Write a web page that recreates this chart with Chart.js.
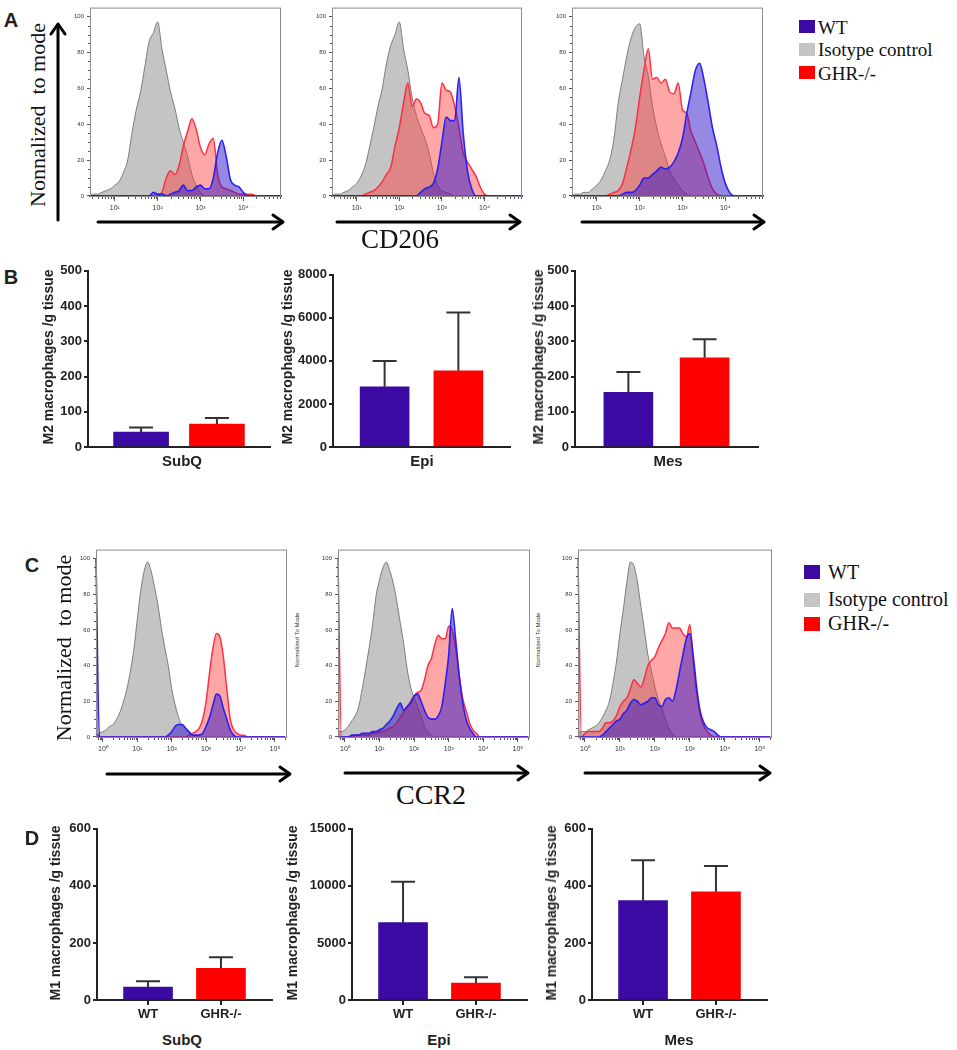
<!DOCTYPE html>
<html>
<head>
<meta charset="utf-8">
<script src="https://cdn.jsdelivr.net/npm/chart.js@4.4.1/dist/chart.umd.min.js"></script>
<style>
body { margin: 0; background: #fff; }
#fig { position: relative; width: 957px; height: 1050px; overflow: hidden; background: #fff; }
#fig canvas { position: absolute; }
.t { position: absolute; white-space: pre; line-height: 1; transform: translate(-50%, -50%); }
.l { transform: translate(0, -50%); }
.r { transform: translate(-50%, -50%) rotate(-90deg); }
.serif { font-family: 'Liberation Serif', 'Times New Roman', serif; color: #111; }
.sans { font-family: 'Liberation Sans', Arial, sans-serif; font-weight: bold; color: #222; }
.tiny { font-family: 'Liberation Sans', Arial, sans-serif; color: #333; }
.sw { position: absolute; }
</style>
</head>
<body>
<div id="fig">
<svg width="957" height="1050" style="position:absolute;left:0;top:0" fill="none" stroke="#000" stroke-width="3" stroke-linecap="round" stroke-linejoin="round">
  <line x1="58" y1="220" x2="58" y2="25"/><polyline points="51,34 58,24 65,34"/>
  <line x1="98" y1="222" x2="282" y2="222"/><polyline points="273,215 283,222 273,229"/>
  <line x1="337" y1="222" x2="519" y2="222"/><polyline points="510,215 520,222 510,229"/>
  <line x1="582" y1="222" x2="763" y2="222"/><polyline points="754,215 764,222 754,229"/>
  <line x1="107" y1="774" x2="289" y2="774"/><polyline points="280,767 290,774 280,781"/>
  <line x1="345" y1="773" x2="527" y2="773"/><polyline points="518,766 528,773 518,780"/>
  <line x1="585" y1="773" x2="769" y2="773"/><polyline points="760,766 770,773 760,780"/>
</svg>
</div>
<script>
// ---- data ----
const cats = ['WT', 'GHR-/-'];
const tissues = ['SubQ', 'Epi', 'Mes'];
const legendItems = ['WT', 'Isotype control', 'GHR-/-'];
const histTicksY = [0, 20, 40, 60, 80, 100];
const decades = [0, 1, 2, 3, 4, 5];

// log10 fluorescence grid, CD206 panels
const gridA = [0.4,0.5,0.6,0.7,0.8,0.9,1.0,1.1,1.2,1.3,1.4,1.5,1.6,1.7,1.8,1.9,2.0,2.1,2.2,2.3,2.4,2.5,2.6,2.7,2.8,2.9,3.0,3.1,3.2,3.3,3.4,3.5,3.6,3.7,3.8,3.9,4.0,4.1,4.2,4.3,4.4,4.5,4.6,4.7,4.8,4.9];
// SubQ CD206
const a1Gray = [0,1,1,2,3,4,6,8,13,20,35,48,58,72,86,91,97,82,70,58,49,38,30,22,12,6,2,0,0,0,0,0,0,0,0,0,0,0,0,0,0,0,0,0,0,0];
const a1Red  = [0,0,0,0,0,0,0,0,0,0,0,0,0,0,0,0,0,2,10,14,12,17,28,36,43,37,27,23,29,32,12,5,4,3,2,1,1,1,1,0,0,0,0,0,0,0];
const a1Blue = [0,0,0,0,0,0,0,0,0,0,0,0,0,0,0,2,1,1,0,1,2,3,6,3,3,5,6,4,4,10,24,31,22,9,6,5,2,0,0,0,0,0,0,0,0,0];
// Epi CD206
const a2Gray = [0,1,1,2,3,5,7,11,17,27,38,50,60,74,84,90,97,82,70,55,45,38,32,24,13,6,3,2,1,0,0,0,0,0,0,0,0,0,0,0,0,0,0,0,0,0];
const a2Red  = [0,0,0,0,0,0,0,0,1,2,3,5,8,12,16,28,38,52,63,50,54,52,46,45,38,40,63,59,58,50,38,24,19,15,11,5,1,0,0,0,0,0,0,0,0,0];
const a2Blue = [0,0,0,0,0,0,0,0,0,0,0,0,0,0,0,0,0,0,0,0,0,2,4,5,7,15,30,44,42,42,66,35,14,4,0,0,0,0,0,0,0,0,0,0,0,0];
// Mes CD206
const a3Gray = [0,1,1,2,2,4,6,9,14,20,32,52,65,78,88,94,96,78,67,50,38,29,22,14,10,6,3,1,0,0,0,0,0,0,0,0,0,0,0,0,0,0,0,0,0,0];
const a3Red  = [0,0,0,0,0,0,0,0,0,1,2,3,7,16,26,38,55,70,82,65,66,63,65,58,57,63,48,46,36,30,24,18,10,4,1,0,0,0,0,0,0,0,0,0,0,0];
const a3Blue = [0,0,0,0,0,0,0,0,0,0,0,0,1,2,2,3,6,10,10,12,14,16,15,16,19,24,32,46,58,70,74,65,52,38,28,16,7,2,0,0,0,0,0,0,0,0];

// log10 fluorescence grid, CCR2 panels
const gridC = [-0.2,-0.1,0.0,0.1,0.2,0.3,0.4,0.5,0.6,0.7,0.8,0.9,1.0,1.1,1.2,1.3,1.4,1.5,1.6,1.7,1.8,1.9,2.0,2.1,2.2,2.3,2.4,2.5,2.6,2.7,2.8,2.9,3.0,3.1,3.2,3.3,3.4,3.5,3.6,3.7,3.8,3.9,4.0,4.1,4.2,4.3,4.4,4.5,4.6,4.7,4.8,4.9,5.0,5.1,5.2,5.3];
// SubQ CCR2
const c1Gray = [0,2,3,4,6,7,10,14,20,27,37,49,66,82,93,98,93,84,74,61,50,40,27,18,11,6,4,2,1,0,0,0,0,0,0,0,0,0,0,0,0,0,0,0,0,0,0,0,0,0,0,0,0,0,0,0];
const c1Red  = [2,0,0,0,0,0,0,0,0,0,0,0,0,0,0,0,0,0,0,0,0,0,0,0,0,0,0,1,2,3,5,10,20,36,50,58,56,45,27,10,4,2,1,1,0,0,0,0,0,0,0,0,0,0,0,0];
const c1Blue = [100,0,0,0,0,0,0,0,0,0,0,0,0,0,0,0,0,0,0,0,0,1,3,6,7,7,5,3,1,1,1,2,6,11,18,24,23,16,10,4,1,0,0,0,0,0,0,0,0,0,0,0,0,0,0,0];
// Epi CCR2
const c2Gray = [3,3,4,6,9,12,17,27,38,50,63,79,88,95,98,93,86,76,64,52,38,28,22,17,12,6,3,1,0,0,0,0,0,0,0,0,0,0,0,0,0,0,0,0,0,0,0,0,0,0,0,0,0,0,0,0];
const c2Red  = [100,0,0,0,0,1,1,1,1,1,2,2,3,3,4,5,6,8,11,14,17,20,23,25,26,32,40,44,52,57,55,55,62,60,50,35,22,15,8,4,2,0,0,0,0,0,0,0,0,0,0,0,0,0,0,0];
const c2Blue = [0,0,0,0,1,1,1,2,2,2,3,3,4,5,7,9,12,16,19,15,17,19,23,24,20,15,11,10,10,12,17,30,46,72,55,35,20,10,5,2,0,0,0,0,0,0,0,0,0,0,0,0,0,0,0,0];
// Mes CCR2
const c3Gray = [2,3,3,4,5,6,8,11,15,20,30,42,58,72,87,98,96,87,73,60,46,37,28,21,16,10,5,2,0,0,0,0,0,0,0,0,0,0,0,0,0,0,0,0,0,0,0,0,0,0,0,0,0,0,0,0];
const c3Red  = [100,0,2,3,3,3,3,5,8,8,9,12,17,20,22,27,32,30,28,33,40,43,45,50,54,58,64,61,61,61,58,56,63,42,24,12,6,3,1,0,0,0,0,0,0,0,0,0,0,0,0,0,0,0,0,0];
const c3Blue = [0,0,0,0,0,0,0,1,3,5,7,9,10,13,15,19,21,20,18,19,20,22,22,18,17,21,22,20,26,36,46,55,58,45,27,14,8,5,4,3,1,0,0,0,0,0,0,0,0,0,0,0,0,0,0,0];

// macrophages per g tissue, mean and SEM (WT, GHR-/-)
const m2Subq = [42, 65],    m2SubqErr = [13, 17];
const m2Epi  = [2800, 3540], m2EpiErr = [1200, 2710];
const m2Mes  = [155, 253],  m2MesErr  = [58, 53];
const m1Subq = [45, 111],   m1SubqErr = [21, 39];
const m1Epi  = [6780, 1480], m1EpiErr = [3570, 520];
const m1Mes  = [348, 379],  m1MesErr  = [142, 91];

// ---- drawing ----
const fig = document.getElementById('fig');
const WT_COL = '#3a0aa3', KO_COL = '#ff0000', ISO_COL = '#c4c4c4';
const SANS = "'Liberation Sans', Arial, sans-serif";
const sup = { 0: '\u2070', 1: '\u00b9', 2: '\u00b2', 3: '\u00b3', 4: '\u2074', 5: '\u2075' };

function addCanvas(x, y, w, h) {
  const c = document.createElement('canvas');
  c.width = w; c.height = h;
  c.style.left = x + 'px'; c.style.top = y + 'px';
  fig.appendChild(c);
  return c;
}
function txt(s, x, y, cls, size) {
  const d = document.createElement('div');
  d.className = 't ' + cls;
  d.textContent = s;
  d.style.left = x + 'px'; d.style.top = y + 'px';
  d.style.fontSize = size + 'px';
  fig.appendChild(d);
}
function swatch(x, y, w, h, col) {
  const d = document.createElement('div');
  d.className = 'sw';
  Object.assign(d.style, { left: x + 'px', top: y + 'px', width: w + 'px', height: h + 'px', background: col });
  fig.appendChild(d);
}

// grey frame + log minor ticks for the flow histograms
const framePlugin = {
  id: 'frame',
  afterDatasetsDraw(chart) {
    const a = chart.chartArea, ctx = chart.ctx, xs = chart.scales.x, ys = chart.scales.y;
    ctx.save();
    ctx.strokeStyle = '#8c8c8c'; ctx.lineWidth = 1;
    ctx.strokeRect(a.left + 0.5, a.top + 0.5, a.right - a.left - 1, a.bottom - a.top - 1);
    ctx.strokeStyle = '#555';
    ctx.beginPath();
    for (let d = Math.floor(xs.min); d <= Math.ceil(xs.max); d++) {
      for (let k = 2; k < 10; k++) {
        const v = d + Math.log10(k);
        if (v < xs.min || v > xs.max) continue;
        const px = Math.round(xs.getPixelForValue(v)) + 0.5;
        ctx.moveTo(px, a.bottom); ctx.lineTo(px, a.bottom + 2);
      }
    }
    for (let v = 5; v < 100; v += 5) {
      if (v % 20 === 0) continue;
      const py = Math.round(ys.getPixelForValue(v)) + 0.5;
      ctx.moveTo(a.left, py); ctx.lineTo(a.left - 2, py);
    }
    ctx.stroke();
    ctx.restore();
  }
};

function hist(fx, fy, fw, fh, grid, xr, blue, red, gray) {
  const c = addCanvas(fx - 30, fy - 4, fw + 34, fh + 28);
  const pts = v => grid.map((g, i) => ({ x: g, y: v[i] }));
  new Chart(c, {
    type: 'line',
    data: {
      datasets: [
        { data: pts(blue), order: 1, clip: 2, borderColor: 'rgba(35,25,245,0.95)', backgroundColor: 'rgba(45,20,200,0.5)', borderWidth: 1.6, fill: 'origin' },
        { data: pts(red), order: 2, clip: 2, borderColor: 'rgba(255,40,60,0.95)', backgroundColor: 'rgba(255,60,60,0.45)', borderWidth: 1.5, fill: 'origin' },
        { data: pts(gray), order: 3, borderColor: '#7d7d7d', backgroundColor: ISO_COL, borderWidth: 1, fill: 'origin' }
      ]
    },
    options: {
      responsive: false, animation: false,
      elements: { point: { radius: 0 }, line: { cubicInterpolationMode: 'monotone' } },
      layout: { padding: { top: 4, right: 4, left: 0, bottom: 0 } },
      plugins: { legend: { display: false }, tooltip: { enabled: false } },
      scales: {
        x: {
          type: 'linear', min: xr[0], max: xr[1],
          afterFit: s => { s.height = 24; },
          afterBuildTicks: s => { s.ticks = decades.filter(d => d >= s.min && d <= s.max).map(d => ({ value: d })); },
          ticks: { callback: v => '10' + sup[v], font: { size: 7, family: SANS }, color: '#333', maxRotation: 0, autoSkip: false, padding: 3 },
          grid: { drawOnChartArea: false, tickLength: 4, color: '#555' },
          border: { display: false }
        },
        y: {
          min: -0.6, max: 105,
          afterFit: s => { s.width = 30; },
          afterBuildTicks: s => { s.ticks = histTicksY.map(v => ({ value: v })); },
          ticks: { font: { size: 6, family: SANS }, color: '#333', padding: 3 },
          grid: { drawOnChartArea: false, tickLength: 3, color: '#555' },
          border: { display: false }
        }
      }
    },
    plugins: [framePlugin]
  });
}

// upward SEM whiskers
const errPlugin = {
  id: 'errbars',
  afterDatasetsDraw(chart, args, opts) {
    const meta = chart.getDatasetMeta(0), ys = chart.scales.y, ctx = chart.ctx;
    ctx.save();
    ctx.strokeStyle = '#333'; ctx.lineWidth = 2;
    meta.data.forEach((bar, i) => {
      const top = ys.getPixelForValue(chart.data.datasets[0].data[i].y + opts.errs[i]);
      ctx.beginPath();
      ctx.moveTo(bar.x, bar.y); ctx.lineTo(bar.x, top);
      ctx.moveTo(bar.x - 12, top); ctx.lineTo(bar.x + 12, top);
      ctx.stroke();
    });
    ctx.restore();
  }
};

function bars(ax, ay, aw, ah, vals, errs, ymax, step, thick, showCats) {
  const c = addCanvas(ax - 60, ay - 8, aw + 66, ah + 38);
  new Chart(c, {
    type: 'bar',
    data: { datasets: [{ data: vals.map((v, i) => ({ x: i, y: v })), backgroundColor: [WT_COL, KO_COL], barThickness: thick }] },
    options: {
      responsive: false, animation: false,
      layout: { padding: { top: 8, right: 6, left: 0, bottom: 0 } },
      plugins: { legend: { display: false }, tooltip: { enabled: false }, errbars: { errs } },
      scales: {
        x: {
          type: 'linear', min: -0.7, max: 1.7, offset: false,
          afterFit: s => { s.height = 30; },
          afterBuildTicks: s => { s.ticks = [{ value: 0 }, { value: 1 }]; },
          ticks: { display: showCats, callback: v => cats[v], font: { size: 13, weight: 'bold', family: SANS }, color: '#222', padding: 2, maxRotation: 0 },
          grid: { offset: false, drawOnChartArea: false, drawTicks: showCats, tickLength: 5, color: '#222', lineWidth: 2 },
          border: { color: '#222', width: 2 }
        },
        y: {
          min: 0, max: ymax,
          afterFit: s => { s.width = 60; },
          ticks: { stepSize: step, callback: v => String(v), font: { size: 13, weight: 'bold', family: SANS }, color: '#222', padding: 2 },
          grid: { drawOnChartArea: false, tickLength: 4, color: '#222', lineWidth: 2 },
          border: { color: '#222', width: 2 }
        }
      }
    },
    plugins: [errPlugin]
  });
}

// A: CD206 histograms
hist(90, 5, 191, 192, gridA, [0.42, 4.88], a1Blue, a1Red, a1Gray);
hist(332, 5, 190, 192, gridA, [0.42, 4.88], a2Blue, a2Red, a2Gray);
hist(572, 5, 191, 192, gridA, [0.42, 4.88], a3Blue, a3Red, a3Gray);
// B: M2 counts
bars(88, 269, 182, 178, m2Subq, m2SubqErr, 500, 100, 55, false);
bars(333, 273, 177, 174, m2Epi, m2EpiErr, 8000, 2000, 49, false);
bars(575, 269, 183, 178, m2Mes, m2MesErr, 500, 100, 49, false);
// C: CCR2 histograms
hist(96, 547, 191, 191, gridC, [-0.2, 5.35], c1Blue, c1Red, c1Gray);
hist(338, 547, 192, 191, gridC, [-0.2, 5.35], c2Blue, c2Red, c2Gray);
hist(578, 547, 194, 191, gridC, [-0.2, 5.35], c3Blue, c3Red, c3Gray);
// D: M1 counts
bars(97, 827, 175, 173, m1Subq, m1SubqErr, 600, 200, 49, true);
bars(352, 827, 175, 173, m1Epi, m1EpiErr, 15000, 5000, 49, true);
bars(592, 827, 175, 173, m1Mes, m1MesErr, 600, 200, 49, true);

// panel letters
txt('A', 11, 20, 'sans', 20);
txt('B', 11, 277, 'sans', 20);
txt('C', 32, 565, 'sans', 20);
txt('D', 32, 838, 'sans', 20);

// histogram axis texts
txt('Nonnalized  to mode', 38, 115, 'serif r', 22);
txt('CD206', 400, 239, 'serif', 27);
txt('Normalized  to mode', 64, 648, 'serif r', 22);
txt('CCR2', 431, 795, 'serif', 28);
txt('Normalized To Mode', 297, 640, 'tiny r', 6);
txt('Normalized To Mode', 538, 640, 'tiny r', 6);

// legends
const legCols = [WT_COL, ISO_COL, KO_COL];
[[20, 27], [43, 49], [66, 73]].forEach((r, i) => {
  swatch(799, r[0], 16, 13, legCols[i]);
  txt(legendItems[i], 818, r[1], 'serif l', 19);
});
[[565, 572], [593, 599], [617, 623]].forEach((r, i) => {
  swatch(804, r[0], 16, 14, legCols[i]);
  txt(legendItems[i], 828, r[1], 'serif l', 20);
});

// bar chart titles
[48, 287, 538].forEach(x => txt('M2 macrophages /g tissue', x, 357, 'sans r', 14));
[55, 292, 551].forEach(x => txt('M1 macrophages /g tissue', x, 913, 'sans r', 14));
[[182, 460], [422, 460], [668, 460]].forEach((p, i) => txt(tissues[i], p[0], p[1], 'sans', 15));
[[182, 1039], [439, 1039], [679, 1039]].forEach((p, i) => txt(tissues[i], p[0], p[1], 'sans', 15));
</script>
</body>
</html>
